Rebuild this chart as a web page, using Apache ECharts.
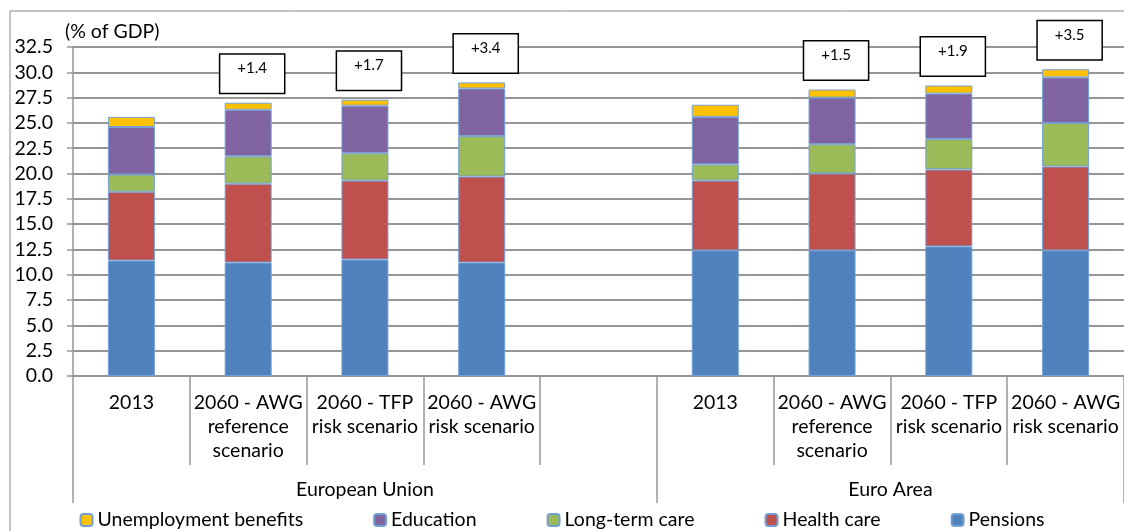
<!DOCTYPE html>
<html lang="en">
<head>
  <meta charset="utf-8" />
  <title>Age-related expenditure</title>
  <script src="https://cdn.jsdelivr.net/npm/echarts@6.0.0/dist/echarts.min.js"></script>
  <style>
    html, body { margin: 0; padding: 0; background: #fff; }
  </style>
</head>
<body>
  <div id="main" style="width: 1124px;height:531px;"></div>
  <script>
    var categories = ['2013', '2060 - AWG\nreference\nscenario', '2060 - TFP\nrisk scenario', '2060 - AWG\nrisk scenario', '',
      '2013', '2060 - AWG\nreference\nscenario', '2060 - TFP\nrisk scenario', '2060 - AWG\nrisk scenario'];
    var groups = ['European Union', 'Euro Area'];
    var pensions = [11.4, 11.2, 11.5, 11.2, null, 12.4, 12.4, 12.8, 12.4];
    var healthCare = [6.8, 7.8, 7.8, 8.5, null, 6.9, 7.6, 7.6, 8.3];
    var longTermCare = [1.7, 2.7, 2.7, 4.0, null, 1.6, 2.9, 3.0, 4.3];
    var education = [4.7, 4.6, 4.7, 4.7, null, 4.7, 4.6, 4.5, 4.5];
    var unemployment = [1.0, 0.7, 0.6, 0.6, null, 1.2, 0.8, 0.8, 0.8];
    var changes = ['', '+1.4', '+1.7', '+3.4', '', '', '+1.5', '+1.9', '+3.5'];
    var yTicks = [0, 2.5, 5, 7.5, 10, 12.5, 15, 17.5, 20, 22.5, 25, 27.5, 30, 32.5];

    var chartDom = document.getElementById('main');
    var myChart = echarts.init(chartDom);
    var font = 'Lato';
    var grey = '#969696';
    var barBorder = { borderColor: '#74a0d6', borderWidth: 1 };

    function segment(name, color, values) {
      return {
        name: name,
        type: 'bar',
        stack: 'total',
        barWidth: 47,
        data: values,
        itemStyle: Object.assign({ color: color }, barBorder)
      };
    }

    // top segment carries the change boxes
    var topData = unemployment.map(function (v, i) {
      if (!changes[i]) return v;
      return {
        value: v,
        label: {
          show: true,
          position: 'top',
          distance: 10,
          offset: [4, 0],
          formatter: changes[i],
          fontFamily: font,
          fontSize: 15,
          color: '#000',
          backgroundColor: '#fff',
          borderColor: '#000',
          borderWidth: 1.5,
          padding: [6, 17, 17, 17]
        }
      };
    });

    var option = {
      animation: false,
      textStyle: { fontFamily: font },
      graphic: [
        {
          type: 'rect',
          shape: { x: 10, y: 11, width: 1300, height: 700 },
          style: { fill: 'none', stroke: '#888', lineWidth: 1 }
        },
        {
          type: 'text',
          left: 65,
          top: 22,
          style: { text: '(% of GDP)', fontFamily: font, fontSize: 19.5, fill: '#000' }
        }
      ],
      legend: {
        top: 505,
        left: 'center',
        itemWidth: 12,
        itemHeight: 12,
        itemGap: 70,
        textStyle: { fontFamily: font, fontSize: 19.5, color: '#000' },
        data: ['Unemployment benefits', 'Education', 'Long-term care', 'Health care', 'Pensions']
      },
      grid: {
        left: 73,
        top: 47,
        width: 1056,
        height: 329
      },
      xAxis: [
        {
          type: 'category',
          data: categories,
          axisLine: { lineStyle: { color: grey, width: 1.5 } },
          axisTick: { show: true, interval: 0, length: 89, lineStyle: { color: grey, width: 1.5 } },
          axisLabel: {
            interval: 0,
            margin: 15,
            fontFamily: font,
            fontSize: 19.5,
            lineHeight: 24,
            color: '#000'
          }
        },
        {
          type: 'value',
          min: 0,
          max: categories.length,
          position: 'bottom',
          axisLine: { show: false },
          splitLine: { show: false },
          axisTick: {
            show: true,
            length: 127,
            customValues: [0, 5, 9],
            lineStyle: { color: grey, width: 1.5 }
          },
          axisLabel: {
            margin: 104,
            customValues: [2.5, 7],
            fontFamily: font,
            fontSize: 19.5,
            color: '#000',
            formatter: function (v) { return v === 2.5 ? groups[0] : groups[1]; }
          }
        }
      ],
      yAxis: {
        type: 'value',
        min: yTicks[0],
        max: yTicks[yTicks.length - 1],
        interval: 2.5,
        axisLine: { show: true, lineStyle: { color: grey, width: 1.5 } },
        axisTick: { show: true, length: 6, lineStyle: { color: grey, width: 1.5 } },
        splitLine: { lineStyle: { color: grey, width: 2 } },
        axisLabel: {
          margin: 20,
          fontFamily: font,
          fontSize: 19.5,
          color: '#000',
          formatter: function (v) { return v.toFixed(1); }
        }
      },
      series: [
        segment('Pensions', '#4f81bd', pensions),
        segment('Health care', '#c0504d', healthCare),
        segment('Long-term care', '#9bbb59', longTermCare),
        segment('Education', '#8064a2', education),
        segment('Unemployment benefits', '#ffc000', topData)
      ]
    };

    myChart.setOption(option);
  </script>
</body>
</html>
